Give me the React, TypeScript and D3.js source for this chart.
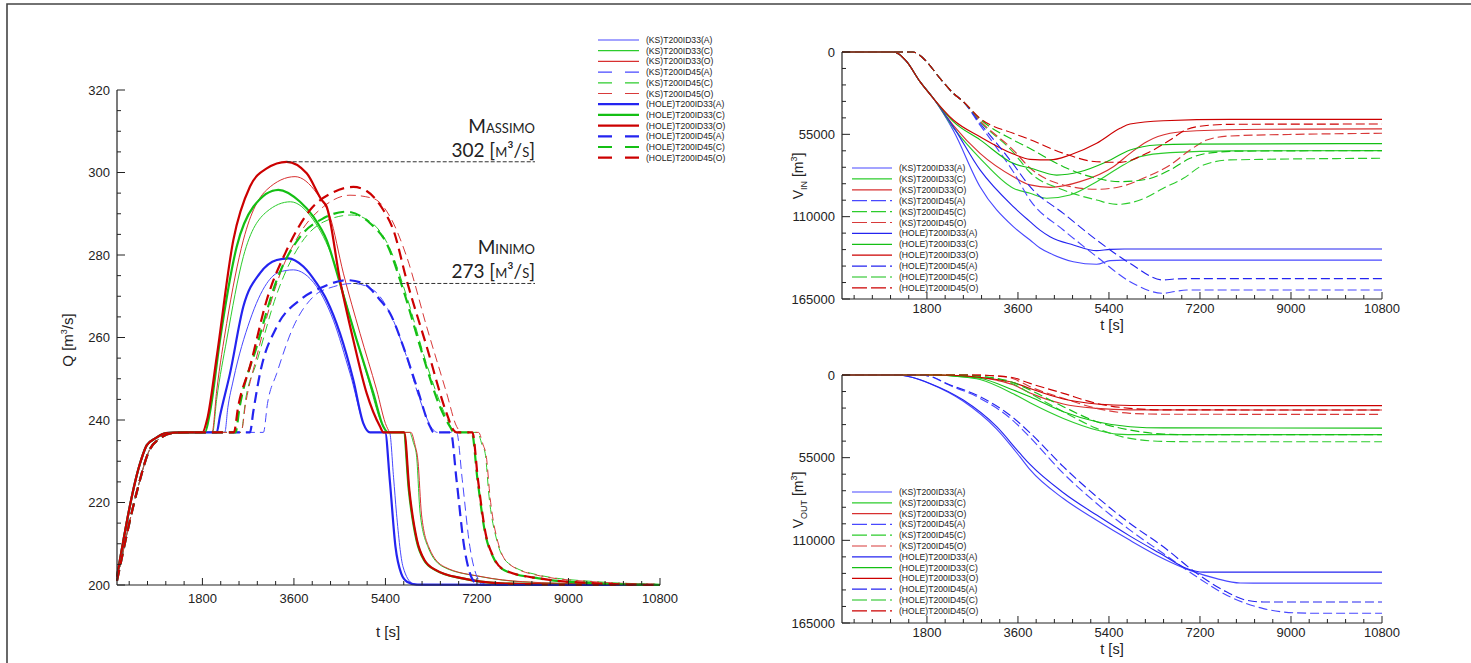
import React from 'react';
import * as d3 from 'd3';

type Pt = [number, number];

// ---------------- DATA ----------------
const SERIES = ['KS33A', 'KS33C', 'KS33O', 'KS45A', 'KS45C', 'KS45O', 'HOLE33A', 'HOLE33C', 'HOLE33O', 'HOLE45A', 'HOLE45C', 'HOLE45O'];
const LEGEND_LABELS = ['(KS)T200ID33(A)', '(KS)T200ID33(C)', '(KS)T200ID33(O)', '(KS)T200ID45(A)', '(KS)T200ID45(C)', '(KS)T200ID45(O)',
  '(HOLE)T200ID33(A)', '(HOLE)T200ID33(C)', '(HOLE)T200ID33(O)', '(HOLE)T200ID45(A)', '(HOLE)T200ID45(C)', '(HOLE)T200ID45(O)'];

const T_MAJOR = [1800, 3600, 5400, 7200, 9000, 10800];
const Q_TICKS = [200, 220, 240, 260, 280, 300, 320];
const V_TICKS = [0, 55000, 110000, 165000];

// Q hydrographs [t (s), Q (m3/s)]
const riseSolidQ: Pt[] = [[120, 202], [594, 230.3], [706, 233.9], [881, 235.6], [1084, 236.8], [1400, 237]];
const riseDashQ: Pt[] = [[120, 201], [519, 223], [743, 232.3], [970, 235.6], [1196, 236.8], [1500, 237]];

const qKS33A: Pt[] = [...riseSolidQ, [2240, 237], [2300, 243], [2408, 249.7], [2736, 264.2], [3065, 273.1], [3300, 275.8], [3589, 276.4], [3800, 275.5], [4048, 272.3], [4375, 264.2], [4703, 251.3], [5030, 237.6], [5100, 237], [5480, 237], [5560, 226], [5617, 217.4], [5746, 204.4], [5934, 200.4], [6150, 200], [10800, 200]];
const qKS33C: Pt[] = [...riseSolidQ, [2000, 237], [2080, 245], [2277, 259.4], [2605, 279.6], [3065, 290.5], [3530, 292.9], [3982, 288.5], [4375, 278.8], [4703, 265], [5030, 251.3], [5358, 238.4], [5450, 237], [5873, 237], [5950, 234.5], [6010, 231.5], [6082, 217.4], [6234, 209.3], [6536, 204.4], [7288, 202], [8041, 200.8], [9550, 200.2], [10800, 200]];
const qKS33O: Pt[] = [...riseSolidQ, [1990, 237], [2080, 247], [2277, 263.4], [2605, 283.6], [3065, 295.8], [3622, 299], [4048, 295], [4310, 289.3], [4572, 275.6], [4900, 261], [5227, 247.3], [5424, 238.4], [5500, 237], [5900, 237], [5980, 234], [6040, 230], [6110, 217], [6260, 209], [6560, 204.4], [7300, 202], [8100, 200.8], [9600, 200.2], [10800, 200]];
const qKS45A: Pt[] = [...riseDashQ, [3000, 237], [3080, 244], [3262, 251.3], [3589, 262.6], [3982, 269.9], [4375, 272.3], [4768, 273.1], [5161, 271.5], [5489, 265.9], [5817, 255.3], [6080, 244.8], [6342, 237.6], [6420, 237], [6800, 237], [6911, 225.5], [7060, 209.3], [7176, 202.8], [7290, 200.6], [7450, 200], [10800, 200]];
const qKS45C: Pt[] = [...riseDashQ, [2560, 237], [2650, 245], [2867, 254], [3262, 270.5], [3720, 282.5], [4179, 288], [4735, 289.7], [5161, 287.5], [5489, 281.5], [5817, 270], [6211, 253.5], [6604, 240.5], [6760, 237], [7211, 237], [7300, 234], [7362, 231.9], [7438, 221.4], [7589, 210.9], [7815, 205.3], [8416, 202.4], [9545, 200.8], [10800, 200.2]];
const qKS45O: Pt[] = [...riseDashQ, [2560, 237], [2650, 244], [2867, 255.3], [3262, 273.1], [3720, 285.3], [4179, 291.7], [4703, 294.5], [5161, 293.7], [5489, 289.3], [5817, 279.6], [6211, 262.6], [6604, 246.5], [6801, 238.4], [6900, 237], [7230, 237], [7320, 234], [7380, 231.5], [7460, 221], [7610, 210.5], [7840, 205], [8450, 202.2], [9600, 200.7], [10800, 200.2]];
const qHOLE33A: Pt[] = [...riseSolidQ, [2080, 237], [2146, 241], [2343, 251.3], [2605, 267.5], [2933, 275.6], [3262, 278.8], [3490, 279.2], [3785, 277.2], [4048, 273.1], [4244, 269.1], [4506, 261], [4768, 249.7], [4965, 239.2], [5097, 237], [5394, 237], [5485, 225.5], [5597, 209.3], [5709, 202.8], [5823, 200.8], [6010, 200.1], [10800, 200]];
const qHOLE33C: Pt[] = [...riseSolidQ, [1850, 237], [1950, 242], [2146, 259.4], [2474, 282], [2802, 291.7], [3293, 295.8], [3720, 292.9], [3982, 289.3], [4244, 283.6], [4506, 273.1], [4834, 259.4], [5161, 246.5], [5358, 238.4], [5450, 237], [5760, 237], [5860, 223], [6010, 210.9], [6160, 206], [6385, 203.6], [6912, 201.6], [7664, 200.4], [8792, 200.1], [10800, 200]];
const qHOLE33O: Pt[] = [...riseSolidQ, [1800, 237], [1900, 240.5], [2081, 255.3], [2408, 283.6], [2736, 296.6], [3065, 301], [3458, 302.6], [3851, 299.8], [4147, 293.3], [4244, 291.7], [4506, 273.9], [4768, 259.4], [5030, 246.5], [5293, 238.4], [5360, 237], [5770, 237], [5870, 223], [6020, 210.9], [6170, 206], [6395, 203.6], [6920, 201.6], [7670, 200.4], [8800, 200.1], [10800, 200]];
const qHOLE45A: Pt[] = [...riseDashQ, [2736, 237], [2800, 242], [2933, 251.3], [3262, 262.6], [3720, 269.1], [4179, 272.3], [4637, 273.9], [4965, 273.1], [5293, 269.1], [5489, 265.9], [5751, 257.8], [6014, 248.1], [6277, 238.4], [6350, 237], [6685, 237], [6798, 225.5], [6948, 209.3], [7063, 202.8], [7176, 200.5], [7350, 200], [10800, 200]];
const qHOLE45C: Pt[] = [...riseDashQ, [2450, 237], [2530, 243], [2867, 257.8], [3262, 273.9], [3720, 284.4], [4179, 288.9], [4637, 290.5], [5097, 287.7], [5424, 282.8], [5751, 271.5], [6145, 255.3], [6473, 243.2], [6670, 238.4], [6750, 237], [7098, 237], [7211, 225.5], [7362, 212.5], [7513, 206.9], [7739, 203.6], [8416, 201.6], [9545, 200.4], [10800, 200]];
const qHOLE45O: Pt[] = [...riseDashQ, [2420, 237], [2500, 243], [2736, 253], [3065, 269.1], [3458, 281.2], [3917, 290.9], [4375, 295.2], [4768, 296.5], [5030, 295.5], [5358, 290.9], [5555, 286.1], [5817, 273.9], [6211, 257.8], [6604, 241.6], [6735, 237.6], [6800, 237], [7110, 237], [7220, 225.5], [7370, 212.5], [7520, 206.9], [7745, 203.6], [8420, 201.6], [9550, 200.4], [10800, 200]];

// V_IN [t, m3]
const vinSolidStart: Pt[] = [[120, 0], [1130, 0], [1250, 1500], [1400, 6500], [1663, 19800], [1926, 30900]];
const vinDashStart: Pt[] = [[120, 0], [1520, 0], [1650, 2000], [1795, 6500], [2058, 17600], [2322, 27600], [2520, 33200]];
const vinKS33A: Pt[] = [...vinSolidStart, [2322, 52500], [2850, 90000], [3508, 116700], [3839, 125600], [4036, 131000], [4234, 134500], [4695, 140100], [5157, 141800], [5421, 139400], [5700, 139000], [10800, 139000]];
const vinKS33C: Pt[] = [...vinSolidStart, [2322, 50500], [2850, 71000], [3508, 91000], [3839, 94400], [4168, 97700], [4630, 95500], [5157, 86600], [5685, 75500], [6015, 69900], [6608, 67200], [7800, 66000], [10800, 65900]];
const vinKS33O: Pt[] = [...vinSolidStart, [2322, 49000], [2850, 67700], [3508, 83300], [3839, 88800], [4234, 90400], [4827, 86600], [5487, 76600], [5817, 67700], [6147, 59900], [6608, 54300], [7136, 52600], [8454, 51600], [10800, 51400]];
const vinKS45A: Pt[] = [...vinDashStart, [2850, 48800], [3180, 64000], [3508, 80000], [3839, 98900], [4498, 118900], [5157, 136700], [5817, 153400], [6476, 161200], [6700, 160000], [6938, 159000], [10800, 159000]];
const vinKS45C: Pt[] = [...vinDashStart, [2850, 46500], [3508, 67000], [3839, 80500], [4498, 92200], [5157, 98900], [5553, 101800], [6015, 98900], [6476, 91000], [6872, 84400], [7268, 75500], [7794, 72100], [10800, 71000]];
const vinKS45O: Pt[] = [...vinDashStart, [2850, 46000], [3508, 65500], [3839, 77500], [4498, 88800], [5157, 91700], [5619, 90000], [6147, 83300], [6608, 75500], [7004, 65500], [7334, 58800], [7794, 56100], [9113, 55000], [10800, 54300]];
const vinHOLE33A: Pt[] = [...vinSolidStart, [2322, 50000], [2850, 78800], [3508, 103300], [3839, 113300], [4036, 119000], [4234, 123400], [4695, 128900], [5157, 132700], [5421, 131800], [5700, 131600], [10800, 131600]];
const vinHOLE33C: Pt[] = [...vinSolidStart, [2322, 46500], [2850, 58700], [3508, 74400], [3839, 77500], [4366, 82200], [4827, 80000], [5355, 73300], [5817, 65500], [6345, 62100], [7000, 61500], [10800, 61200]];
const vinHOLE33O: Pt[] = [...vinSolidStart, [2322, 45400], [2850, 56600], [3508, 68100], [3839, 71700], [4234, 72100], [4630, 68800], [5157, 61000], [5619, 51000], [5817, 48100], [6476, 45900], [7794, 45000], [10800, 45000]];
const vinHOLE45A: Pt[] = [...vinDashStart, [2850, 47600], [3180, 61000], [3508, 75000], [3839, 90000], [4498, 107800], [5157, 125600], [5817, 141200], [6476, 152300], [6700, 151600], [7000, 151400], [10800, 151400]];
const vinHOLE45C: Pt[] = [...vinDashStart, [2850, 44800], [3508, 58800], [3839, 64500], [4498, 76600], [5157, 84400], [5619, 86600], [6147, 85000], [6608, 78800], [7004, 71000], [7334, 67700], [8000, 66200], [10800, 65900]];
const vinHOLE45O: Pt[] = [...vinDashStart, [2850, 44300], [3508, 54300], [3839, 58500], [4498, 67700], [5157, 73300], [5619, 73700], [6147, 67700], [6608, 58800], [6938, 51700], [7136, 49900], [7800, 48300], [10800, 48100]];

// V_OUT [t, m3]
const voutKS33A: Pt[] = [[120, 0], [1200, 0], [1500, 1500], [1861, 5800], [2520, 17500], [3180, 36000], [3641, 54500], [3839, 63000], [4498, 82200], [5157, 96600], [5817, 110000], [6476, 122200], [7004, 130000], [7532, 135500], [7993, 138400], [8400, 138500], [10800, 138500]];
const voutKS33C: Pt[] = [[120, 0], [2000, 0], [2400, 1000], [2850, 3000], [3508, 12500], [3839, 18500], [4498, 28900], [5157, 36600], [5553, 39300], [6000, 39700], [10800, 39700]];
const voutKS33O: Pt[] = [[120, 0], [2000, 0], [2500, 600], [3180, 3500], [3508, 6500], [3839, 12000], [4498, 19300], [5157, 22200], [5817, 23200], [10800, 23300]];
const voutKS45A: Pt[] = [[120, 0], [1650, 0], [1900, 1300], [2191, 6000], [2850, 15500], [3508, 30500], [3839, 41500], [4498, 65500], [5157, 85500], [5817, 103200], [6476, 118800], [7136, 134300], [7794, 147600], [8454, 155400], [9113, 158300], [9500, 158500], [10800, 158500]];
const voutKS45C: Pt[] = [[120, 0], [2500, 0], [2850, 900], [3508, 6000], [3839, 12200], [4498, 24400], [5157, 35500], [5817, 42200], [6476, 44200], [7000, 44400], [10800, 44400]];
const voutKS45O: Pt[] = [[120, 0], [2700, 0], [3180, 700], [3508, 2500], [3839, 7800], [4498, 15500], [5157, 22200], [5817, 25500], [6476, 26100], [10800, 26200]];
const voutHOLE33A: Pt[] = [[120, 0], [1200, 0], [1500, 1500], [1861, 5600], [2520, 16700], [3180, 34400], [3641, 52200], [3839, 59500], [4498, 78300], [5157, 93200], [5817, 107200], [6476, 119900], [6938, 128700], [7268, 131200], [10800, 131200]];
const voutHOLE33C: Pt[] = [[120, 0], [2000, 0], [2400, 800], [2850, 2200], [3508, 10000], [3839, 14500], [4498, 24400], [5157, 31100], [5817, 34400], [6476, 35200], [10800, 35300]];
const voutHOLE33O: Pt[] = [[120, 0], [2000, 0], [2500, 500], [3180, 3000], [3508, 5000], [3839, 9000], [4498, 16000], [5157, 19300], [5817, 20300], [10800, 20400]];
const voutHOLE45A: Pt[] = [[120, 0], [1650, 0], [1900, 1200], [2191, 5600], [2850, 14400], [3508, 28500], [3839, 38500], [4498, 61000], [5157, 81000], [5817, 98800], [6476, 114300], [7136, 132000], [7663, 143200], [8125, 149900], [8454, 151000], [10800, 151000]];
const voutHOLE45C: Pt[] = [[120, 0], [2500, 0], [2850, 800], [3508, 5000], [3839, 10000], [4498, 21100], [5157, 31100], [5817, 36600], [6476, 39300], [7000, 39700], [10800, 39700]];
const voutHOLE45O: Pt[] = [[120, 0], [2700, 0], [3180, 600], [3508, 1800], [3839, 5600], [4498, 12200], [5157, 18900], [5817, 22200], [6476, 23200], [10800, 23300]];

const Q_DATA = [qKS33A, qKS33C, qKS33O, qKS45A, qKS45C, qKS45O, qHOLE33A, qHOLE33C, qHOLE33O, qHOLE45A, qHOLE45C, qHOLE45O];
const VIN_DATA = [vinKS33A, vinKS33C, vinKS33O, vinKS45A, vinKS45C, vinKS45O, vinHOLE33A, vinHOLE33C, vinHOLE33O, vinHOLE45A, vinHOLE45C, vinHOLE45O];
const VOUT_DATA = [voutKS33A, voutKS33C, voutKS33O, voutKS45A, voutKS45C, voutKS45O, voutHOLE33A, voutHOLE33C, voutHOLE33O, voutHOLE45A, voutHOLE45C, voutHOLE45O];

const MAX_LABEL = '302 [m³/s]';
const MIN_LABEL = '273 [m³/s]';

// ---------------- STYLE ----------------
const COLORS: Record<string, string> = {
  KS33A: '#4848ff', KS33C: '#2ccc2c', KS33O: '#d83030', KS45A: '#4848ff', KS45C: '#2ccc2c', KS45O: '#d83a3a',
  HOLE33A: '#2424f0', HOLE33C: '#14bf14', HOLE33O: '#cc0000', HOLE45A: '#2424f0', HOLE45C: '#14bf14', HOLE45O: '#cc0000',
};
const isHole = (k: string) => k.startsWith('HOLE');
const isDash = (k: string) => k.includes('45');

const FONT = '"Liberation Sans", Arial, sans-serif';

function xMinorTicks(): number[] {
  const out: number[] = [];
  for (let t = 360; t <= 10800; t += 360) if (t % 1800 !== 0) out.push(t);
  return out;
}

type AxesProps = {
  x: d3.ScaleLinear<number, number>;
  y: d3.ScaleLinear<number, number>;
  yTicks: number[];
  yMinor: number[];
  yLabelX: number;
  xLabelDy: number;
};

function Axes({ x, y, yTicks, yMinor, yLabelX, xLabelDy }: AxesProps) {
  const [x0, x1] = x.range();
  const yr = y.range();
  const yBottom = Math.max(yr[0], yr[1]);
  const yTop = Math.min(yr[0], yr[1]);
  return (
    <g stroke="#222" fill="none">
      <line x1={x0} x2={x1} y1={yBottom} y2={yBottom} strokeWidth={1.2} />
      <line x1={x0} x2={x0} y1={yTop} y2={yBottom} strokeWidth={1.2} />
      {T_MAJOR.map((t) => (
        <g key={'xm' + t}>
          <line x1={x(t)} x2={x(t)} y1={yBottom} y2={yBottom - 7} strokeWidth={1} />
          <text x={x(t)} y={yBottom + xLabelDy} textAnchor="middle" fill="#222" stroke="none" fontSize={13} fontFamily={FONT}>{t}</text>
        </g>
      ))}
      {xMinorTicks().map((t) => (
        <line key={'xn' + t} x1={x(t)} x2={x(t)} y1={yBottom} y2={yBottom - 4} strokeWidth={1} />
      ))}
      {yTicks.map((v) => (
        <g key={'ym' + v}>
          <line x1={x0} x2={x0 + 8} y1={y(v)} y2={y(v)} strokeWidth={1} />
          <text x={yLabelX} y={y(v)} dy="0.35em" textAnchor="end" fill="#222" stroke="none" fontSize={13} fontFamily={FONT}>{v}</text>
        </g>
      ))}
      {yMinor.map((v) => (
        <line key={'yn' + v} x1={x0} x2={x0 + 4} y1={y(v)} y2={y(v)} strokeWidth={1} />
      ))}
    </g>
  );
}

type LegendProps = { x0: number; y0: number; step: number; len: number; thick: boolean; dash: string };
function Legend({ x0, y0, step, len, thick, dash }: LegendProps) {
  return (
    <g>
      {SERIES.map((k, i) => {
        const yy = y0 + i * step;
        return (
          <g key={k}>
            <line x1={x0} x2={x0 + len} y1={yy} y2={yy} stroke={COLORS[k]}
              strokeWidth={thick && isHole(k) ? 2.2 : 1.2} strokeDasharray={isDash(k) ? dash : undefined} />
            <text x={x0 + len + 7} y={yy} dy="0.35em" fontSize={8.6} fontFamily={FONT} fill="#222">{LEGEND_LABELS[i]}</text>
          </g>
        );
      })}
    </g>
  );
}

function Series({ data, x, y, thick, dashThin, dashThick }: { data: Pt[][]; x: any; y: any; thick: boolean; dashThin: string; dashThick: string }) {
  const line = d3.line<Pt>().x((d) => x(d[0])).y((d) => y(d[1])).curve(d3.curveMonotoneX);
  return (
    <g fill="none">
      {SERIES.map((k, i) => (
        <path key={k} d={line(data[i]) || ''} stroke={COLORS[k]}
          strokeWidth={thick ? (isHole(k) ? 2.2 : 1) : 1.15}
          strokeDasharray={isDash(k) ? (thick && isHole(k) ? dashThick : dashThin) : undefined}
          strokeLinejoin="round" />
      ))}
    </g>
  );
}

export default function App() {
  // Left chart
  const xL = d3.scaleLinear().domain([120, 10800]).range([117, 660]);
  const yL = d3.scaleLinear().domain([200, 320]).range([585, 90]);
  // Right charts
  const xR = d3.scaleLinear().domain([120, 10800]).range([842, 1382]);
  const yTop = d3.scaleLinear().domain([0, 165000]).range([52, 299]);
  const yBot = d3.scaleLinear().domain([0, 165000]).range([375, 623]);

  const qMinor = d3.range(205, 320, 5).filter((v) => v % 20 !== 0);
  const vMinor = d3.range(11000, 165000, 11000).filter((v) => v % 55000 !== 0);

  // Max / min peaks
  const peaks = Q_DATA.map((s) => s.reduce((a, b) => (b[1] > a[1] ? b : a)));
  const maxPk = peaks.reduce((a, b) => (b[1] > a[1] ? b : a));
  const minPk = peaks.reduce((a, b) => (b[1] < a[1] ? b : a));

  const annFont = 'Lato, "Open Sans", sans-serif';

  return (
    <svg width={1471} height={663} style={{ position: 'absolute', left: 0, top: 0, background: '#fff' }}>
      <rect x={0} y={0} width={1471} height={663} fill="#fff" />
      <path d="M7,663 L7,4 L1471,4" fill="none" stroke="#444" strokeWidth={1.6} />

      {/* LEFT CHART */}
      <Series data={Q_DATA} x={xL} y={yL} thick={true} dashThin="9,5" dashThick="11,6" />
      <Axes x={xL} y={yL} yTicks={Q_TICKS} yMinor={qMinor} yLabelX={110} xLabelDy={18} />
      <text x={388} y={637} textAnchor="middle" fontSize={15} fontFamily={FONT} fill="#222">t [s]</text>
      <text transform="translate(73,340) rotate(-90)" textAnchor="middle" fontSize={15} fontFamily={FONT} fill="#222">
        Q [m<tspan dy={-6} fontSize={9}>3</tspan><tspan dy={6}>/s]</tspan>
      </text>

      {/* annotations */}
      <line x1={xL(maxPk[0])} x2={535} y1={yL(maxPk[1])} y2={yL(maxPk[1])} stroke="#333" strokeWidth={1} strokeDasharray="4,2" />
      <line x1={xL(minPk[0])} x2={535} y1={yL(minPk[1])} y2={yL(minPk[1])} stroke="#333" strokeWidth={1} strokeDasharray="4,2" />
      <g fontFamily={annFont} fontSize={19} fill="#222" textAnchor="end" style={{ fontVariant: 'small-caps' }}>
        <text x={535} y={yL(maxPk[1]) - 29}>Massimo</text>
        <text x={535} y={yL(maxPk[1]) - 5}>{MAX_LABEL}</text>
        <text x={535} y={yL(minPk[1]) - 29}>Minimo</text>
        <text x={535} y={yL(minPk[1]) - 5}>{MIN_LABEL}</text>
      </g>

      <Legend x0={598} y0={40} step={10.7} len={41} thick={true} dash="14,13" />

      {/* TOP RIGHT */}
      <Series data={VIN_DATA} x={xR} y={yTop} thick={false} dashThin="9,4" dashThick="9,4" />
      <Axes x={xR} y={yTop} yTicks={V_TICKS} yMinor={vMinor} yLabelX={835} xLabelDy={13.5} />
      <text x={1112} y={330} textAnchor="middle" fontSize={14.5} fontFamily={FONT} fill="#222">t [s]</text>
      <text transform="translate(803,176) rotate(-90)" textAnchor="middle" fontSize={14} fontFamily={FONT} fill="#222">
        V<tspan dy={4} fontSize={9}>IN</tspan><tspan dy={-4}> [m</tspan><tspan dy={-6} fontSize={9}>3</tspan><tspan dy={6}>]</tspan>
      </text>
      <Legend x0={852} y0={168} step={10.9} len={40} thick={false} dash="15,4" />

      {/* BOTTOM RIGHT */}
      <Series data={VOUT_DATA} x={xR} y={yBot} thick={false} dashThin="9,4" dashThick="9,4" />
      <Axes x={xR} y={yBot} yTicks={V_TICKS} yMinor={vMinor} yLabelX={835} xLabelDy={13.5} />
      <text x={1112} y={654} textAnchor="middle" fontSize={14.5} fontFamily={FONT} fill="#222">t [s]</text>
      <text transform="translate(803,500) rotate(-90)" textAnchor="middle" fontSize={14} fontFamily={FONT} fill="#222">
        V<tspan dy={4} fontSize={9}>OUT</tspan><tspan dy={-4}> [m</tspan><tspan dy={-6} fontSize={9}>3</tspan><tspan dy={6}>]</tspan>
      </text>
      <Legend x0={852} y0={492} step={10.8} len={40} thick={false} dash="15,4" />
    </svg>
  );
}
